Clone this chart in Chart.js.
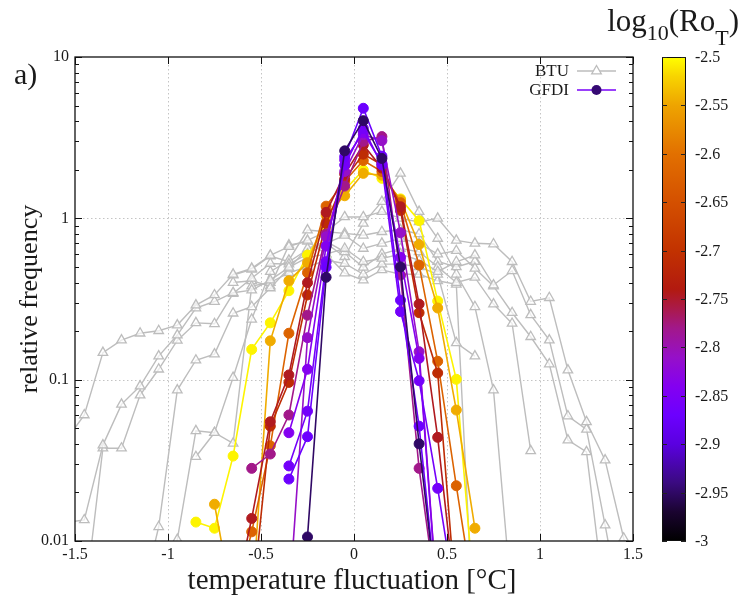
<!DOCTYPE html>
<html>
<head>
<meta charset="utf-8">
<title>Temperature fluctuation distributions</title>
<script src="https://cdn.jsdelivr.net/npm/chart.js@4.4.1/dist/chart.umd.min.js"></script>
<style>
  html, body { margin: 0; padding: 0; background: #ffffff; }
  #box { position: relative; width: 741px; height: 600px; }
</style>
</head>
<body>
<div id="box"><canvas id="chart" width="741" height="600"></canvas></div>
<script>
const _ = null;

// histogram bin centres [°C]
const binCenters = [-1.55, -1.45, -1.35, -1.25, -1.15, -1.05, -0.95, -0.85, -0.75, -0.65, -0.55,
  -0.45, -0.35, -0.25, -0.15, -0.05, 0.05, 0.15, 0.25, 0.35, 0.45, 0.55, 0.65, 0.75, 0.85,
  0.95, 1.05, 1.15, 1.25, 1.35, 1.45, 1.55];

// BTU laboratory runs (relative frequency per bin)
const btuRun1 = [0.042, 0.0604, 0.147, 0.176, 0.194, 0.201, 0.218, 0.290, 0.335, 0.45, 0.49, 0.59, 0.667, 0.73, 0.826, 1.02,
  1.02, 1.10, 1.0, 0.95, 1.0, 0.73, 0.70, 0.693, 0.538, 0.305, 0.322, 0.1147, 0.0548, 0.0317, 0.0104, 0.004];
const btuRun2 = [0.013, 0.0135, 0.0393, 0.0703, 0.0912, 0.140, 0.189, 0.278, 0.305, 0.346, 0.359, 0.414, 0.497, 0.573, 0.60, 0.65,
  0.538, 0.564, 0.60, 0.55, 0.467, 0.538, 0.592, 0.386, 0.473, 0.252, 0.176, 0.0595, 0.0492, 0.01255, 0.003, _];
const btuRun3 = [_, 0.004, 0.0376, 0.0376, 0.0802, 0.116, 0.175, 0.225, 0.222, 0.342, 0.425, 0.525, 0.52, 0.60, 0.70, 0.785,
  0.65, 0.70, 0.75, 0.70, 0.60, 0.63, 0.49, 0.380, 0.26, 0.1845, 0.125, 0.0422, 0.0357, 0.004, _, _];
const btuRun4 = [_, _, _, _, 0.004, 0.01225, 0.0862, 0.132, 0.144, 0.258, 0.283, 0.37, 0.49, 0.65, 0.72, 0.62,
  0.497, 0.60, 0.65, 0.62, 0.50, 0.40, 0.43, 0.294, 0.223, 0.0362, _, _, _, _, _, _];
const btuRun5 = [_, _, _, _, _, 0.004, 0.0102, 0.0482, 0.0469, 0.103, 0.2365, 0.467, 0.55, 0.846, 0.826, 0.807,
  0.785, 0.826, 0.85, 0.80, 0.54, 0.50, 0.54, _, _, _, _, _, _, _, _, _];
const btuRun6 = [_, _, _, _, _, _, _, 0.0333, 0.0469, 0.0403, 0.38, 0.40, 0.46, 0.50, 0.55, 0.525,
  0.45, 0.52, 0.52, 0.50, 0.45, 0.169, 0.140, _, _, _, _, _, _, _, _, _];
const btuRun7 = [_, _, _, _, _, _, _, _, _, 0.40, 0.41, 0.38, 0.682, 0.719, 0.60, 0.458,
  0.414, 0.479, 0.45, 0.45, 0.41, 0.39, 0.002, _, _, _, _, _, _, _, _, _];
const btuRun8 = [_, _, _, _, _, _, _, _, _, 0.445, 0.483, 0.584, 0.538, 0.64, 0.70, 0.578,
  0.93, 1.27, 1.90, 1.10, 0.75, 0.45, 0.283, 0.0862, 0.004, _, _, _, _, _, _, _];
const btuRuns = [btuRun1, btuRun2, btuRun3, btuRun4, btuRun5, btuRun6, btuRun7, btuRun8];

// GFDI simulations (relative frequency per bin) and their log10(Ro_T)
const gfdiRun1 = [_, _, _, _, _, _, _, _, _, _, _, _, _, 0.0106, 0.431, 2.62,
  4.03, 2.35, 0.50, 0.040, 0.004, _, _, _, _, _, _, _, _, _, _, _];
const gfdiRun2 = [_, _, _, _, _, _, _, _, _, _, _, _, 0.0242, 0.0443, 0.497, 2.41,
  4.81, 2.43, 0.311, 0.0515, 0.004, _, _, _, _, _, _, _, _, _, _, _];
const gfdiRun3 = [_, _, _, _, _, _, _, _, _, _, _, _, 0.0292, 0.0638, 0.538, 2.14,
  3.61, 2.14, 0.264, 0.0985, 0.0212, 0.004, _, _, _, _, _, _, _, _, _, _];
const gfdiRun4 = [_, _, _, _, _, _, _, _, _, _, _, _, 0.0469, 0.116, 0.673, 2.30,
  3.40, 2.20, 0.573, 0.1355, 0.004, _, _, _, _, _, _, _, _, _, _, _];
const gfdiRun5 = [_, _, _, _, _, _, _, _, _, _, _, _, 0.004, 0.182, 0.769, 1.95,
  3.30, 3.03, 0.815, 0.149, 0.004, _, _, _, _, _, _, _, _, _, _, _];
const gfdiRun6 = [_, _, _, _, _, _, _, _, _, _, 0.0282, 0.0346, 0.0604, 0.251, 0.80, 1.585,
  3.00, 3.21, 0.445, 0.0282, 0.004, _, _, _, _, _, _, _, _, _, _, _];
const gfdiRun7 = [_, _, _, _, _, _, _, _, _, 0.004, 0.0138, 0.0548, 0.107, 0.399, 1.089, 1.88,
  2.85, 2.05, 1.18, 0.294, 0.0439, 0.004, _, _, _, _, _, _, _, _, _, _];
const gfdiRun8 = [_, _, _, _, _, _, _, _, _, _, 0.004, 0.0515, 0.0962, 0.335, 0.931, 1.75,
  2.50, 2.15, 1.12, 0.260, 0.110, 0.004, _, _, _, _, _, _, _, _, _, _];
const gfdiRun9 = [_, _, _, _, _, _, _, _, _, 0.004, 0.0114, 0.0389, 0.194, 0.46, 1.19, 1.70,
  2.28, 1.95, 1.25, 0.513, 0.130, 0.0220, 0.004, _, _, _, _, _, _, _, _, _];
const gfdiRun10 = [_, _, _, _, _, _, _, _, 0.0169, 0.004, 0.004, 0.174, 0.41, 0.531, 1.05, 1.38,
  1.90, 1.85, 1.30, 0.688, 0.278, 0.0648, 0.0120, _, _, _, _, _, _, _, _, _];
const gfdiRun11 = [_, _, _, _, _, _, _, 0.0131, 0.0120, 0.0336, 0.154, 0.225, 0.356, 0.592, 0.867, 1.50,
  1.99, 1.77, 1.32, 0.967, 0.307, 0.1005, 0.004, _, _, _, _, _, _, _, _, _];
const gfdiRuns = [gfdiRun1, gfdiRun2, gfdiRun3, gfdiRun4, gfdiRun5, gfdiRun6,
  gfdiRun7, gfdiRun8, gfdiRun9, gfdiRun10, gfdiRun11];
const gfdiLogRo = [-2.95, -2.87, -2.86, -2.84, -2.81, -2.78, -2.745, -2.71, -2.62, -2.545, -2.505];

// axes and colour bar
const xTickStep = 0.5;
const xRange = [-1.5, 1.5];
const yRange = [0.01, 10];
const yMajorTicks = [0.01, 0.1, 1, 10];
const colorbarRange = [-3, -2.5];
const colorbarTicks = [-3, -2.95, -2.9, -2.85, -2.8, -2.75, -2.7, -2.65, -2.6, -2.55, -2.5];

// colour palette for log10(Ro_T)
const paletteStops = [
  [-3.0, '#000000'], [-2.97, '#1a0430'], [-2.94, '#3a0a80'], [-2.9, '#5a00e0'],
  [-2.87, '#6c00ff'], [-2.84, '#8400f0'], [-2.81, '#9610c8'], [-2.78, '#a2188a'],
  [-2.76, '#aa1a4a'], [-2.74, '#b21a10'], [-2.7, '#c23200'], [-2.65, '#d45000'],
  [-2.6, '#e27000'], [-2.55, '#eea400'], [-2.52, '#f8d400'], [-2.5, '#ffff00']
];

const FONT = "'Liberation Serif', 'Times New Roman', serif";
const TEXT = '#1a1a1a';

function hexToRgb(h) {
  return [parseInt(h.slice(1, 3), 16), parseInt(h.slice(3, 5), 16), parseInt(h.slice(5, 7), 16)];
}
function paletteColor(v) {
  if (v <= paletteStops[0][0]) return paletteStops[0][1];
  for (let i = 1; i < paletteStops.length; i++) {
    const [v1, c1] = paletteStops[i];
    const [v0, c0] = paletteStops[i - 1];
    if (v <= v1) {
      const t = (v - v0) / (v1 - v0);
      const a = hexToRgb(c0), b = hexToRgb(c1);
      const m = a.map((c, k) => Math.round(c + (b[k] - c) * t));
      return `rgb(${m[0]},${m[1]},${m[2]})`;
    }
  }
  return paletteStops[paletteStops.length - 1][1];
}
function isDecade(v) {
  const l = Math.log10(v);
  return Math.abs(l - Math.round(l)) < 1e-9;
}

const clipBox = { left: 0, top: 6, right: 6, bottom: 0 };
const BTU_GREY = '#bdbdbd';

const datasets = [];
gfdiRuns.forEach((run, i) => {
  const c = paletteColor(gfdiLogRo[i]);
  datasets.push({
    label: 'GFDI',
    data: binCenters.map((x, k) => ({ x, y: run[k] })),
    borderColor: c,
    backgroundColor: c,
    pointBackgroundColor: c,
    pointBorderColor: c,
    pointRadius: 5,
    pointBorderWidth: 1,
    pointStyle: 'circle',
    borderWidth: 1.6,
    order: 1,
    clip: clipBox,
    spanGaps: false
  });
});
btuRuns.forEach((run) => {
  datasets.push({
    label: 'BTU',
    data: binCenters.map((x, k) => ({ x, y: run[k] })),
    borderColor: BTU_GREY,
    backgroundColor: BTU_GREY,
    pointBackgroundColor: 'rgba(255,255,255,0.7)',
    pointBorderColor: BTU_GREY,
    pointRadius: 5.5,
    pointBorderWidth: 1.3,
    pointStyle: 'triangle',
    borderWidth: 1.4,
    order: 2,
    clip: clipBox,
    spanGaps: false
  });
});

function strokeLine(ctx, x0, y0, x1, y1) {
  ctx.beginPath(); ctx.moveTo(x0, y0); ctx.lineTo(x1, y1); ctx.stroke();
}

const decorations = {
  id: 'decorations',
  beforeDatasetsDraw(chart) {
    const { ctx, chartArea: a, scales: { x, y } } = chart;
    ctx.save();
    ctx.strokeStyle = '#c4c4c4';
    ctx.lineWidth = 1;
    ctx.setLineDash([1.5, 2.5]);
    x.ticks.forEach(t => {
      const px = Math.round(x.getPixelForValue(t.value)) + 0.5;
      if (px > a.left + 2 && px < a.right - 2) strokeLine(ctx, px, a.top, px, a.bottom);
    });
    y.ticks.forEach(t => {
      if (!isDecade(t.value)) return;
      const py = Math.round(y.getPixelForValue(t.value)) + 0.5;
      if (py > a.top + 2 && py < a.bottom - 2) strokeLine(ctx, a.left, py, a.right, py);
    });
    ctx.restore();
  },
  afterDraw(chart) {
    const { ctx, chartArea: a, scales: { x, y } } = chart;
    ctx.save();

    // frame
    ctx.strokeStyle = '#111';
    ctx.lineWidth = 1.3;
    ctx.strokeRect(a.left, a.top, a.right - a.left, a.bottom - a.top);

    // inward tick marks
    ctx.lineWidth = 1;
    x.ticks.forEach(t => {
      const px = Math.round(x.getPixelForValue(t.value)) + 0.5;
      strokeLine(ctx, px, a.bottom, px, a.bottom - 7);
      strokeLine(ctx, px, a.top, px, a.top + 7);
    });
    y.ticks.forEach(t => {
      const py = Math.round(y.getPixelForValue(t.value)) + 0.5;
      const len = isDecade(t.value) ? 7 : 4;
      strokeLine(ctx, a.left, py, a.left + len, py);
      strokeLine(ctx, a.right, py, a.right - len, py);
    });

    // axis titles
    ctx.fillStyle = TEXT;
    ctx.font = `29px ${FONT}`;
    ctx.textAlign = 'center';
    ctx.textBaseline = 'middle';
    ctx.fillText('temperature fluctuation [°C]', (a.left + a.right) / 2 - 2, 581);
    ctx.save();
    ctx.translate(30, (a.top + a.bottom) / 2);
    ctx.rotate(-Math.PI / 2);
    ctx.font = `26px ${FONT}`;
    ctx.fillText('relative frequency', 0, 0);
    ctx.restore();

    // panel label
    ctx.font = `30px ${FONT}`;
    ctx.textAlign = 'left';
    ctx.textBaseline = 'alphabetic';
    ctx.fillText('a)', 14, 84);

    // legend
    const lx0 = a.right - 56, lx1 = a.right - 17, lxm = (lx0 + lx1) / 2;
    const ly1 = a.top + 14, ly2 = a.top + 33;
    ctx.font = `17px ${FONT}`;
    ctx.textAlign = 'right';
    ctx.textBaseline = 'middle';
    ctx.fillStyle = TEXT;
    ctx.fillText('BTU', lx0 - 8, ly1 + 1);
    ctx.fillText('GFDI', lx0 - 8, ly2 + 1);
    ctx.strokeStyle = BTU_GREY;
    ctx.lineWidth = 1.4;
    strokeLine(ctx, lx0, ly1, lx1, ly1);
    ctx.fillStyle = '#ffffff';
    ctx.lineWidth = 1.3;
    ctx.beginPath();
    ctx.moveTo(lxm, ly1 - 5.5);
    ctx.lineTo(lxm + 4.8, ly1 + 2.8);
    ctx.lineTo(lxm - 4.8, ly1 + 2.8);
    ctx.closePath();
    ctx.fill(); ctx.stroke();
    ctx.strokeStyle = paletteColor(-2.855);
    ctx.lineWidth = 1.6;
    strokeLine(ctx, lx0, ly2, lx1, ly2);
    ctx.fillStyle = paletteColor(-2.945);
    ctx.beginPath(); ctx.arc(lxm, ly2, 5, 0, Math.PI * 2); ctx.fill();

    // colour bar
    const cbL = a.right + 29, cbR = a.right + 53;
    const cbT = a.top, cbB = a.bottom;
    const cbY = v => cbB - (v - colorbarRange[0]) / (colorbarRange[1] - colorbarRange[0]) * (cbB - cbT);
    const grad = ctx.createLinearGradient(0, cbB, 0, cbT);
    paletteStops.forEach(([v, c]) => {
      grad.addColorStop((v - colorbarRange[0]) / (colorbarRange[1] - colorbarRange[0]), c);
    });
    ctx.fillStyle = grad;
    ctx.fillRect(cbL, cbT, cbR - cbL, cbB - cbT);
    ctx.strokeStyle = '#111';
    ctx.lineWidth = 1;
    ctx.strokeRect(cbL + 0.5, cbT + 0.5, cbR - cbL - 1, cbB - cbT - 1);
    ctx.font = `16px ${FONT}`;
    ctx.textAlign = 'left';
    ctx.textBaseline = 'middle';
    colorbarTicks.forEach(v => {
      const py = Math.round(cbY(v)) + 0.5;
      ctx.strokeStyle = '#222';
      strokeLine(ctx, cbL, py, cbL + 5, py);
      strokeLine(ctx, cbR, py, cbR - 5, py);
      ctx.fillStyle = TEXT;
      ctx.fillText(String(v), cbR + 9, py);
    });

    // colour bar title: log10(Ro_T)
    const mainF = `31px ${FONT}`, subF = `22px ${FONT}`;
    const parts = [['log', mainF, 0], ['10', subF, 9], ['(Ro', mainF, 0], ['T', subF, 14], [')', mainF, 0]];
    ctx.textAlign = 'left';
    ctx.textBaseline = 'alphabetic';
    let total = 0;
    parts.forEach(p => { ctx.font = p[1]; total += ctx.measureText(p[0]).width; });
    let tx = 739 - total;
    const base = 31;
    ctx.fillStyle = TEXT;
    parts.forEach(p => {
      ctx.font = p[1];
      ctx.fillText(p[0], tx, base + p[2]);
      tx += ctx.measureText(p[0]).width;
    });

    ctx.restore();
  }
};

Chart.defaults.font.family = FONT;
Chart.defaults.color = TEXT;

new Chart(document.getElementById('chart'), {
  type: 'line',
  data: { datasets },
  options: {
    responsive: false,
    animation: false,
    events: [],
    layout: { padding: { top: 57, right: 108, bottom: 0, left: 0 } },
    plugins: { legend: { display: false }, tooltip: { enabled: false } },
    scales: {
      x: {
        type: 'linear',
        min: xRange[0],
        max: xRange[1],
        ticks: {
          stepSize: xTickStep, font: { size: 16 }, color: TEXT, padding: 4, maxRotation: 0, autoSkip: false,
          callback: v => String(v)
        },
        grid: { display: false, drawTicks: false },
        border: { display: false },
        afterFit: s => { s.height = 59; }
      },
      y: {
        type: 'logarithmic',
        min: yRange[0],
        max: yRange[1],
        afterBuildTicks: s => {
          const t = [];
          for (let k = 0; k < yMajorTicks.length; k++) {
            const d = yMajorTicks[k];
            t.push({ value: d, major: true });
            if (k < yMajorTicks.length - 1) {
              for (let m = 2; m <= 9; m++) t.push({ value: d * m, major: false });
            }
          }
          s.ticks = t;
        },
        ticks: {
          autoSkip: false,
          font: { size: 16 },
          color: TEXT,
          padding: 6,
          callback: v => (isDecade(v) ? String(v) : '')
        },
        grid: { display: false, drawTicks: false },
        border: { display: false },
        afterFit: s => { s.width = 75; }
      }
    }
  },
  plugins: [decorations]
});
</script>
</body>
</html>
